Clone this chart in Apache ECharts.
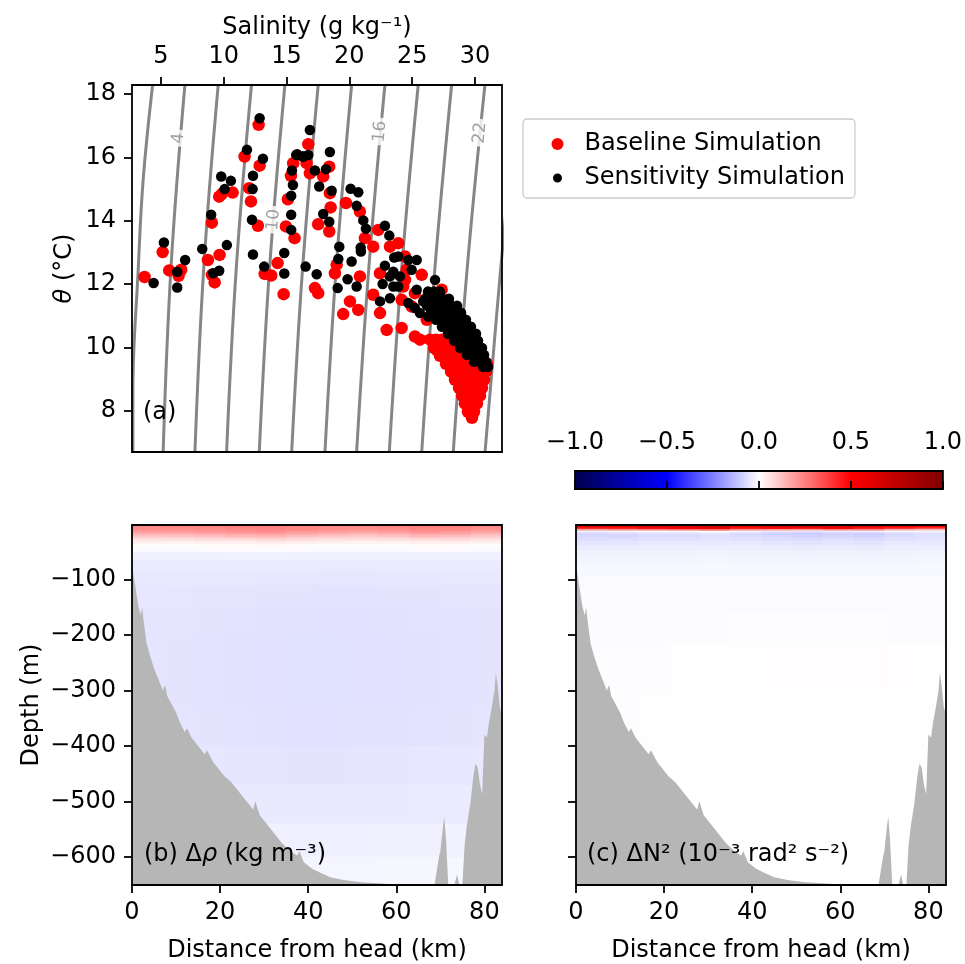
<!DOCTYPE html>
<html><head><meta charset="utf-8">
<script src="https://cdn.jsdelivr.net/npm/echarts@6/dist/echarts.min.js"></script>
<style>html,body{margin:0;padding:0;background:#fff}#c{width:965px;height:964px}</style>
</head><body><div id="c"></div>
<script>
// ---------------- DATA ----------------
// Panel (a): isopycnals (sigma-theta levels) read as [salinity, theta] points
const isopycnalLevels = [2,4,6,8,10,12,14,16,18,20,22,24];
const isopycnalPts = [
 [[4.34,18.29],[3.59,15.30],[3.20,12.50],[2.77,8.55],[2.77,6.69]],
 [[6.91,18.29],[5.80,12.50],[5.18,6.69]],
 [[9.56,18.29],[8.41,12.50],[7.71,6.69]],
 [[12.21,18.29],[11.00,12.50],[10.23,6.69]],
 [[14.87,18.29],[13.65,12.50],[12.83,6.69]],
 [[17.52,18.29],[16.28,12.50],[15.41,6.69]],
 [[20.18,18.29],[18.95,12.50],[18.06,6.69]],
 [[22.83,18.29],[21.55,12.50],[20.58,6.69]],
 [[25.48,18.29],[24.17,12.50],[23.18,6.69]],
 [[28.14,18.29],[26.81,12.50],[25.76,6.69]],
 [[30.79,18.29],[29.38,12.50],[28.27,6.69]],
 [[33.40,18.29],[32.05,12.50],[30.80,6.69]]
];
const contourLabelPts = [[6.41,16.61],[13.97,14.03],[22.44,16.82],[30.40,16.78]];
const contourLabelText = ['4','10','16','22'];

// Baseline simulation [salinity, theta]
const baselinePts = [
 [12.78,17.03],[11.66,16.03],[12.86,15.74],[9.64,14.76],[9.86,14.85],[10.71,14.89],[12.03,15.03],[12.17,14.61],[9.06,13.94],[12.72,13.84],
 [5.14,13.01],[8.74,12.76],[9.67,12.92],[5.66,12.43],[6.62,12.45],[6.41,12.26],[3.70,12.22],[9.28,12.05],[9.06,12.29],[14.29,12.66],
 [13.26,12.32],[13.78,12.27],[14.77,11.68],[14.95,13.82],[15.11,14.68],[15.35,15.42],[15.64,13.45],
 [16.73,16.42],[15.53,15.82],[16.60,15.82],[16.86,15.50],[17.92,15.40],[18.40,15.71],[18.45,14.87],[18.51,14.42],[17.52,13.89],[18.40,13.66],
 [19.73,14.56],[20.84,14.29],[21.24,13.45],[21.90,13.18],[18.99,12.61],[18.85,12.34],[20.84,12.24],[17.26,11.87],[17.52,11.71],[20.05,11.45],
 [19.51,11.05],[20.71,11.18],[22.30,13.71],[23.23,13.18],[22.44,12.34],[21.90,11.66],[22.44,11.08],[22.97,10.55],
 [23.89,13.29],[24.43,12.87],[24.56,12.45],[25.76,12.29],[24.29,11.92],[24.16,11.50],[24.96,11.29],[24.16,10.61],[25.62,10.24],[26.95,9.92],
 [26.16,10.87],[27.35,11.82],[25.22,11.71],[24.43,12.13],[25.22,10.34],
 [26.42,10.24],[26.89,10.24],[27.37,10.24],[27.85,10.24],
 [26.74,9.98],[27.21,9.98],[27.69,9.98],[28.17,9.98],[28.65,9.98],[29.12,9.98],[29.60,9.98],
 [27.21,9.73],[27.69,9.73],[28.17,9.73],[28.65,9.73],[29.12,9.73],[29.60,9.73],[30.08,9.73],[30.56,9.73],
 [27.69,9.48],[28.17,9.48],[28.65,9.48],[29.12,9.48],[29.60,9.48],[30.08,9.48],[30.56,9.48],[30.96,9.48],
 [28.09,9.23],[28.57,9.23],[29.04,9.23],[29.52,9.23],[30.00,9.23],[30.48,9.23],[30.88,9.23],
 [28.41,8.97],[28.89,8.97],[29.36,8.97],[29.84,8.97],[30.32,8.97],[30.72,8.97],
 [28.73,8.72],[29.20,8.72],[29.68,8.72],[30.16,8.72],[30.56,8.72],
 [28.97,8.47],[29.44,8.47],[29.92,8.47],[30.40,8.47],
 [29.20,8.22],[29.68,8.22],[30.16,8.22],
 [29.44,7.96],[29.92,7.96],
 [29.76,7.77]
];

// Sensitivity simulation [salinity, theta]
const sensitivityPts = [
 [12.86,17.24],[11.85,16.24],[13.12,15.96],[9.80,15.40],[10.57,15.26],[10.07,15.00],[12.33,15.42],[12.30,15.00],[9.00,14.19],[12.25,14.03],
 [5.24,13.31],[8.29,13.11],[10.25,13.23],[6.93,12.76],[6.30,12.39],[4.42,12.03],[6.30,11.89],[9.16,12.34],[9.64,12.42],[12.33,12.93],
 [13.22,12.55],[14.82,12.98],[14.82,12.33],[15.37,14.19],[15.37,14.79],[15.51,15.13],[15.43,15.59],[15.77,16.08],[16.28,16.03],[15.37,13.71],
 [16.86,16.87],[15.85,16.10],[16.33,16.03],[16.73,16.08],[18.45,16.17],[17.26,15.59],[18.14,15.63],[17.60,15.08],[18.59,14.95],[20.10,15.01],
 [20.71,14.90],[20.58,14.47],[17.92,14.21],[18.40,13.97],[21.11,14.01],[21.32,13.75],[19.20,13.18],[20.90,13.15],[20.92,13.03],[19.12,12.79],
 [20.18,12.71],[16.52,12.55],[17.40,12.31],[19.86,12.15],[19.07,11.87],[20.58,11.92],[22.83,13.84],[23.18,13.53],[22.83,12.58],[23.50,12.39],
 [23.23,12.24],[22.65,12.00],[23.50,11.92],[22.44,11.45],[23.23,11.55],[23.57,12.84],
 [23.89,12.87],[24.69,12.76],[25.36,12.76],[24.96,12.45],[24.03,12.24],[23.89,11.92],[25.36,11.82],[24.69,11.40],[25.22,11.24],[25.88,11.45],
 [25.62,11.08],[26.55,11.40],[26.28,10.97],[26.82,12.13],
 [26.26,11.76],[26.74,11.76],[27.21,11.76],
 [26.02,11.53],[26.50,11.53],[26.97,11.53],[27.45,11.53],[27.93,11.53],
 [26.18,11.31],[26.66,11.31],[27.13,11.31],[27.61,11.31],[28.09,11.31],[28.57,11.31],
 [26.50,11.09],[26.97,11.09],[27.45,11.09],[27.93,11.09],[28.41,11.09],[28.89,11.09],
 [26.89,10.87],[27.37,10.87],[27.85,10.87],[28.33,10.87],[28.81,10.87],[29.28,10.87],
 [27.37,10.65],[27.85,10.65],[28.33,10.65],[28.81,10.65],[29.28,10.65],[29.68,10.65],
 [27.85,10.43],[28.33,10.43],[28.81,10.43],[29.28,10.43],[29.76,10.43],[30.08,10.43],
 [28.33,10.21],[28.81,10.21],[29.28,10.21],[29.76,10.21],[30.24,10.21],
 [28.81,9.98],[29.28,9.98],[29.76,9.98],[30.24,9.98],[30.56,9.98],
 [29.36,9.76],[29.84,9.76],[30.32,9.76],[30.72,9.76],
 [29.92,9.54],[30.40,9.54],[30.88,9.54],
 [30.64,9.38],[31.04,9.38]
];

const salinityTicks = [5,10,15,20,25,30];
const thetaTicks = [8,10,12,14,16,18];
const distTicks = [0,20,40,60,80];
const depthTicks = [-100,-200,-300,-400,-500,-600];
const cbarTicks = [-1,-0.5,0,0.5,1];

// Bathymetry [distance km, depth m]
const bathymetry = [
 [0,-72],[0.5,-100],[1,-125],[1.5,-150],[2,-165],[2.3,-150],[2.6,-172],[3.3,-215],[4,-235],[5,-260],[6,-280],[7,-300],[7.5,-290],
 [8,-310],[9,-325],[10,-340],[11,-360],[12,-375],[12.5,-368],[13.5,-385],[15,-400],[16.5,-415],[17,-408],[18.5,-430],[20,-445],
 [21,-455],[22.5,-465],[24,-480],[25,-490],[26,-500],[27.5,-515],[28,-500],[29,-525],[30,-535],[32,-555],[34,-575],[36,-590],
 [37.5,-598],[38,-590],[39,-610],[41,-622],[43,-630],[45,-637],[48,-642],[52,-646],[56,-648],[60,-650],[68.7,-650],[69.3,-620],
 [69.7,-600],[70,-590],[70.6,-545],[70.9,-528],[71.3,-570],[71.8,-651],[73.2,-651],[73.8,-632],[74.3,-651],[75,-651],[75.5,-580],
 [76,-545],[76.8,-505],[77.5,-455],[78,-432],[78.5,-440],[79,-470],[79.5,-487],[80,-380],[80.6,-385],[81,-360],[81.7,-330],
 [82.3,-300],[82.6,-268],[83,-290],[83.5,-330],[84,-345]
];

// Section fields: column edges (km), depth edges (m) and cell values per depth row
const distEdges = [0,7,14,21,28,35,42,49,56,63,70,77,84];
const rhoDepthEdges = [-1.5,-3,-7,-11,-15,-19,-23,-27,-31,-36,-42,-50,-65,-85,-110,-150,-200,-260,-330,-400,-470,-540,-600,-651];
const rhoRows = [
 [0.10,0.14,0.12,0.15,0.10,0.14,0.12,0.10,0.15,0.12,0.14,0.12],
 [0.23,0.24,0.24,0.25,0.25,0.24,0.23,0.23,0.24,0.25,0.25,0.23],
 [0.23,0.23,0.23,0.24,0.25,0.24,0.23,0.22,0.23,0.24,0.24,0.22],
 [0.20,0.20,0.21,0.22,0.23,0.21,0.20,0.19,0.20,0.22,0.21,0.19],
 [0.16,0.16,0.17,0.18,0.19,0.17,0.16,0.15,0.16,0.18,0.17,0.15],
 [0.12,0.12,0.13,0.14,0.15,0.13,0.12,0.11,0.12,0.14,0.13,0.11],
 [0.08,0.08,0.09,0.10,0.11,0.09,0.08,0.08,0.08,0.10,0.09,0.08],
 [0.05,0.05,0.06,0.06,0.07,0.06,0.05,0.05,0.05,0.06,0.06,0.05],
 [0.025,0.025,0.03,0.03,0.035,0.03,0.025,0.025,0.025,0.03,0.03,0.025],
 [0.005,0.005,0.008,0.01,0.012,0.008,0.005,0.005,0.005,0.01,0.008,0.005],
 [-0.012,-0.012,-0.010,-0.008,-0.006,-0.010,-0.012,-0.012,-0.012,-0.008,-0.010,-0.012],
 [-0.030,-0.030,-0.029,-0.028,-0.027,-0.029,-0.030,-0.030,-0.030,-0.029,-0.029,-0.030],
 [-0.040,-0.040,-0.040,-0.040,-0.040,-0.042,-0.042,-0.042,-0.042,-0.040,-0.040,-0.040],
 [-0.045,-0.045,-0.045,-0.046,-0.047,-0.048,-0.049,-0.049,-0.048,-0.047,-0.046,-0.045],
 [-0.048,-0.049,-0.050,-0.051,-0.052,-0.053,-0.054,-0.054,-0.053,-0.052,-0.051,-0.050],
 [-0.050,-0.051,-0.053,-0.055,-0.056,-0.057,-0.058,-0.058,-0.057,-0.055,-0.054,-0.052],
 [-0.051,-0.052,-0.054,-0.056,-0.058,-0.060,-0.060,-0.059,-0.058,-0.056,-0.055,-0.053],
 [-0.051,-0.052,-0.054,-0.056,-0.058,-0.060,-0.060,-0.059,-0.058,-0.056,-0.055,-0.053],
 [-0.050,-0.051,-0.053,-0.055,-0.057,-0.058,-0.058,-0.057,-0.056,-0.054,-0.053,-0.051],
 [-0.046,-0.046,-0.048,-0.050,-0.051,-0.052,-0.052,-0.051,-0.050,-0.048,-0.047,-0.046],
 [-0.038,-0.038,-0.039,-0.041,-0.042,-0.043,-0.043,-0.042,-0.041,-0.040,-0.039,-0.038],
 [-0.028,-0.028,-0.028,-0.029,-0.030,-0.031,-0.031,-0.031,-0.030,-0.029,-0.028,-0.028],
 [-0.016,-0.016,-0.016,-0.017,-0.018,-0.019,-0.019,-0.019,-0.018,-0.017,-0.016,-0.016]
];
const n2DepthEdges = [-1.5,-3,-6,-9,-12,-15,-19,-24,-30,-38,-48,-60,-75,-95,-120,-160,-220,-300,-400,-500,-651];
const n2Rows = [
 [0.55,0.40,0.65,0.45,0.60,-0.45,0.55,0.65,0.50,-0.30,0.35,0.45],
 [0.62,0.60,0.68,0.66,0.72,0.60,0.66,0.70,0.66,0.62,0.55,0.50],
 [0.42,0.44,0.48,0.50,0.55,0.45,0.48,0.46,0.50,0.45,0.40,0.35],
 [0.15,0.18,0.20,0.22,0.25,0.18,0.15,0.14,0.18,0.20,0.12,0.10],
 [-0.03,-0.02,-0.01,-0.01,0.00,-0.02,-0.04,-0.05,-0.04,-0.03,-0.02,-0.02],
 [-0.08,-0.07,-0.06,-0.06,-0.05,-0.07,-0.09,-0.10,-0.09,-0.10,-0.07,-0.06],
 [-0.08,-0.08,-0.07,-0.07,-0.06,-0.07,-0.08,-0.09,-0.08,-0.09,-0.07,-0.06],
 [-0.065,-0.065,-0.060,-0.060,-0.055,-0.060,-0.065,-0.070,-0.065,-0.070,-0.060,-0.055],
 [-0.050,-0.050,-0.046,-0.046,-0.045,-0.046,-0.050,-0.054,-0.050,-0.054,-0.046,-0.045],
 [-0.036,-0.036,-0.034,-0.034,-0.033,-0.034,-0.036,-0.038,-0.036,-0.038,-0.034,-0.033],
 [-0.026,-0.026,-0.025,-0.025,-0.024,-0.025,-0.026,-0.027,-0.026,-0.027,-0.025,-0.024],
 [-0.019,-0.019,-0.019,-0.019,-0.018,-0.019,-0.019,-0.020,-0.019,-0.020,-0.019,-0.018],
 [-0.014,-0.014,-0.014,-0.014,-0.013,-0.014,-0.014,-0.014,-0.014,-0.014,-0.013,-0.013],
 [-0.010,-0.010,-0.010,-0.010,-0.010,-0.010,-0.010,-0.010,-0.010,-0.010,-0.010,-0.010],
 [-0.008,-0.008,-0.008,-0.008,-0.008,-0.008,-0.008,-0.008,-0.008,-0.008,-0.008,-0.008],
 [-0.006,-0.006,-0.006,-0.005,-0.005,-0.004,-0.004,-0.004,-0.004,-0.004,-0.005,-0.005],
 [-0.004,-0.004,-0.003,-0.002,0.000,0.001,0.003,0.004,0.004,0.004,0.003,0.002],
 [-0.003,-0.003,-0.002,-0.001,0.000,0.001,0.002,0.002,0.002,0.002,0.002,0.001],
 [-0.002,-0.002,-0.001,0.000,0.000,0.000,0.001,0.001,0.001,0.001,0.001,0.000],
 [0.000,0.000,0.000,0.000,0.000,0.000,0.000,0.000,0.000,0.000,0.000,0.000]
];

// ---------------- CHART ----------------
const FONT = 'DejaVu Sans';
const FS = 24;
const seismic = ['#00004d','#0000ff','#ffffff','#ff0000','#800000'];
const minus = v => (v < 0 ? '\u2212' : '') + Math.abs(v);

function buildCells(depthEdges, rows) {
  const out = [];
  for (let j = 0; j < rows.length; j++)
    for (let i = 0; i < distEdges.length - 1; i++)
      out.push([distEdges[i], distEdges[i+1], depthEdges[j], depthEdges[j+1], rows[j][i]]);
  return out;
}
function renderCell(params, api) {
  const p0 = api.coord([api.value(0), api.value(2)]);
  const p1 = api.coord([api.value(1), api.value(3)]);
  return {type:'rect', shape:{x:Math.min(p0[0],p1[0]), y:Math.min(p0[1],p1[1]),
    width:Math.abs(p1[0]-p0[0])+0.7, height:Math.abs(p1[1]-p0[1])+0.7},
    style:{fill: api.visual('color')}};
}
function axis(o) {
  const base = {
    type:'value', axisLine:{show:false}, splitLine:{show:false}, z:10,
    axisTick:{show:true, inside:false, length:8, lineStyle:{color:'#000', width:1.8}},
    axisLabel:{color:'#000', fontSize:FS, fontFamily:FONT, margin:16},
    nameTextStyle:{color:'#000', fontSize:FS, fontFamily:FONT}
  };
  const r = Object.assign({}, base, o);
  r.axisTick = Object.assign({}, base.axisTick, o.axisTick || {});
  r.axisLabel = Object.assign({}, base.axisLabel, o.axisLabel || {});
  r.nameTextStyle = Object.assign({}, base.nameTextStyle, o.nameTextStyle || {});
  return r;
}
const gridStyle = {show:true, borderColor:'#000', borderWidth:1.8, backgroundColor:'transparent', z:5};

const series = [];
isopycnalPts.forEach(pts => series.push({
  type:'line', xAxisIndex:0, yAxisIndex:0, data:pts, symbol:'none', smooth:0.4, clip:true, silent:true, z:1,
  lineStyle:{color:'#868686', width:3}
}));
series.push({
  type:'scatter', xAxisIndex:0, yAxisIndex:0, z:2, silent:true,
  data: contourLabelPts.map((p, i) => ({value:p, name:contourLabelText[i]})),
  symbolSize:1, itemStyle:{color:'rgba(0,0,0,0)'},
  label:{show:true, position:'inside', formatter: p => p.name, rotate:85, color:'#8a8a8a',
    fontSize:17, fontFamily:FONT, backgroundColor:'#fff', padding:[0,3]}
});
series.push({name:'Baseline Simulation', type:'scatter', xAxisIndex:0, yAxisIndex:0, z:3,
  data:baselinePts, symbolSize:12.5, itemStyle:{color:'#ff0000', opacity:1}});
series.push({name:'Sensitivity Simulation', type:'scatter', xAxisIndex:0, yAxisIndex:0, z:4,
  data:sensitivityPts, symbolSize:10.5, itemStyle:{color:'#000000', opacity:1}});
const heatB = series.length;
series.push({type:'custom', xAxisIndex:1, yAxisIndex:1, z:1, clip:true, silent:true,
  data:buildCells(rhoDepthEdges, rhoRows), renderItem:renderCell, encode:{x:[0,1], y:[2,3]}});
series.push({type:'line', xAxisIndex:1, yAxisIndex:1, z:3, data:bathymetry, symbol:'none', silent:true, clip:true,
  lineStyle:{width:0, opacity:0}, areaStyle:{color:'#b6b6b6', opacity:1, origin:'start'}});
const heatC = series.length;
series.push({type:'custom', xAxisIndex:2, yAxisIndex:2, z:1, clip:true, silent:true,
  data:buildCells(n2DepthEdges, n2Rows), renderItem:renderCell, encode:{x:[0,1], y:[2,3]}});
series.push({type:'line', xAxisIndex:2, yAxisIndex:2, z:3, data:bathymetry, symbol:'none', silent:true, clip:true,
  lineStyle:{width:0, opacity:0}, areaStyle:{color:'#b6b6b6', opacity:1, origin:'start'}});
series.push({type:'custom', xAxisIndex:3, yAxisIndex:3, z:1, silent:true, data:[[cbarTicks[0], cbarTicks[cbarTicks.length-1]]],
  renderItem:(params, api) => {
    const p0 = api.coord([api.value(0), 0]);
    const p1 = api.coord([api.value(1), 1]);
    return {type:'rect', shape:{x:p0[0], y:p1[1], width:p1[0]-p0[0], height:p0[1]-p1[1]},
      style:{fill:new echarts.graphic.LinearGradient(0,0,1,0, seismic.map((c,i)=>({offset:i/(seismic.length-1), color:c})))}};
  }});

const option = {
  animation:false,
  backgroundColor:'#fff',
  textStyle:{fontFamily:FONT},
  grid:[
    Object.assign({left:132, top:85, width:370, height:367}, gridStyle),
    Object.assign({left:132, top:525, width:370, height:367}, gridStyle),
    Object.assign({left:576, top:525, width:370, height:367}, gridStyle),
    Object.assign({left:575, top:471, width:371, height:18}, gridStyle)
  ],
  xAxis:[
    axis({gridIndex:0, position:'top', min:2.7, max:32.15, name:'Salinity (g kg\u207B\u00B9)', nameLocation:'middle', nameGap:45,
      axisTick:{customValues:salinityTicks}, axisLabel:{customValues:salinityTicks}}),
    axis({gridIndex:1, position:'bottom', min:0, max:84, name:'Distance from head (km)', nameLocation:'middle', nameGap:54,
      axisTick:{customValues:distTicks}, axisLabel:{customValues:distTicks}}),
    axis({gridIndex:2, position:'bottom', min:0, max:84, name:'Distance from head (km)', nameLocation:'middle', nameGap:54,
      axisTick:{customValues:distTicks}, axisLabel:{customValues:distTicks}}),
    axis({gridIndex:3, position:'top', min:-1, max:1,
      axisTick:{customValues:cbarTicks}, axisLabel:{customValues:cbarTicks, formatter: v => (v<0?'\u2212':'') + Math.abs(v).toFixed(1)}})
  ],
  yAxis:[
    axis({gridIndex:0, min:6.69, max:18.29, name:'{it|\u03B8} (\u00B0C)', nameLocation:'middle', nameGap:55, nameRotate:90,
      nameTextStyle:{rich:{it:{fontStyle:'italic', fontSize:FS, fontFamily:FONT, color:'#000'}}},
      axisTick:{customValues:thetaTicks}, axisLabel:{customValues:thetaTicks}}),
    axis({gridIndex:1, min:-651, max:-1.5, name:'Depth (m)', nameLocation:'middle', nameGap:88, nameRotate:90,
      axisTick:{customValues:depthTicks}, axisLabel:{customValues:depthTicks, formatter:minus}}),
    axis({gridIndex:2, min:-651, max:-1.5,
      axisTick:{customValues:depthTicks}, axisLabel:{show:false}}),
    {type:'value', gridIndex:3, min:0, max:1, show:false}
  ],
  visualMap:[{type:'continuous', show:false, min:-1, max:1, dimension:4, seriesIndex:[heatB, heatC],
    inRange:{color:seismic}}],
  legend:{
    orient:'vertical', left:523, top:119, icon:'circle', itemWidth:44, itemHeight:12, itemGap:8,
    padding:[12,10,7,27], borderColor:'#cccccc', borderWidth:1.3, borderRadius:4, backgroundColor:'rgba(255,255,255,0.8)',
    textStyle:{color:'#000', fontSize:24, fontFamily:FONT, lineHeight:26},
    data:[
      {name:'Baseline Simulation', itemStyle:{color:'#ff0000'}},
      {name:'Sensitivity Simulation', itemStyle:{color:'#000000', borderColor:'#ffffff', borderWidth:3}}
    ]
  },
  graphic:[
    {type:'text', x:143, y:413, z:100, style:{text:'(a)', fontSize:FS, fontFamily:FONT, fill:'#000', verticalAlign:'middle'}},
    {type:'text', x:144, y:855, z:100, style:{text:'(b) \u0394{it|\u03C1} (kg m\u207B\u00B3)', fontSize:FS, fontFamily:FONT, fill:'#000', verticalAlign:'middle',
      rich:{it:{fontStyle:'italic', fontSize:FS, fontFamily:FONT, fill:'#000'}}}},
    {type:'text', x:587, y:855, z:100, style:{text:'(c) \u0394N\u00B2 (10\u207B\u00B3 rad\u00B2 s\u207B\u00B2)', fontSize:FS, fontFamily:FONT, fill:'#000', verticalAlign:'middle'}}
  ],
  series: series
};
const chart = echarts.init(document.getElementById('c'), null, {renderer:'canvas'});
chart.setOption(option);
</script></body></html>
